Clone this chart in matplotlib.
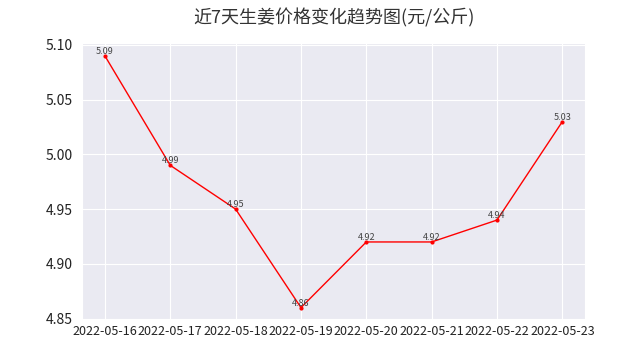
import matplotlib
matplotlib.use('Agg')
import matplotlib.pyplot as plt
import seaborn as sns

dates = ['2022-05-16', '2022-05-17', '2022-05-18', '2022-05-19',
         '2022-05-20', '2022-05-21', '2022-05-22', '2022-05-23']
prices = [5.09, 4.99, 4.95, 4.86, 4.92, 4.92, 4.94, 5.03]

sns.set_style('darkgrid')
plt.rcParams['font.family'] = ['Noto Sans CJK SC', 'DejaVu Sans']
plt.rcParams['axes.unicode_minus'] = False

fig, ax = plt.subplots(figsize=(6.41, 3.61), dpi=100)
fig.subplots_adjust(left=0.128, right=0.913, top=0.88, bottom=0.113)

ax.plot(dates, prices, color='red', linewidth=1, marker='o', markersize=2)
for d, p in zip(dates, prices):
    ax.text(d, p, f'{p:.2f}', ha='center', va='bottom', fontsize=6.5, color='#444444')

ax.set_title('近7天生姜价格变化趋势图(元/公斤)', fontsize=13, pad=14, color='#333333')
ax.set_yticks([4.85, 4.90, 4.95, 5.00, 5.05, 5.10])
ax.set_yticklabels(['4.85', '4.90', '4.95', '5.00', '5.05', '5.10'])
ax.tick_params(axis='x', labelsize=9, colors='#222222', pad=0)
ax.tick_params(axis='y', labelsize=10, colors='#222222')

fig.savefig('out.png', dpi=100)
